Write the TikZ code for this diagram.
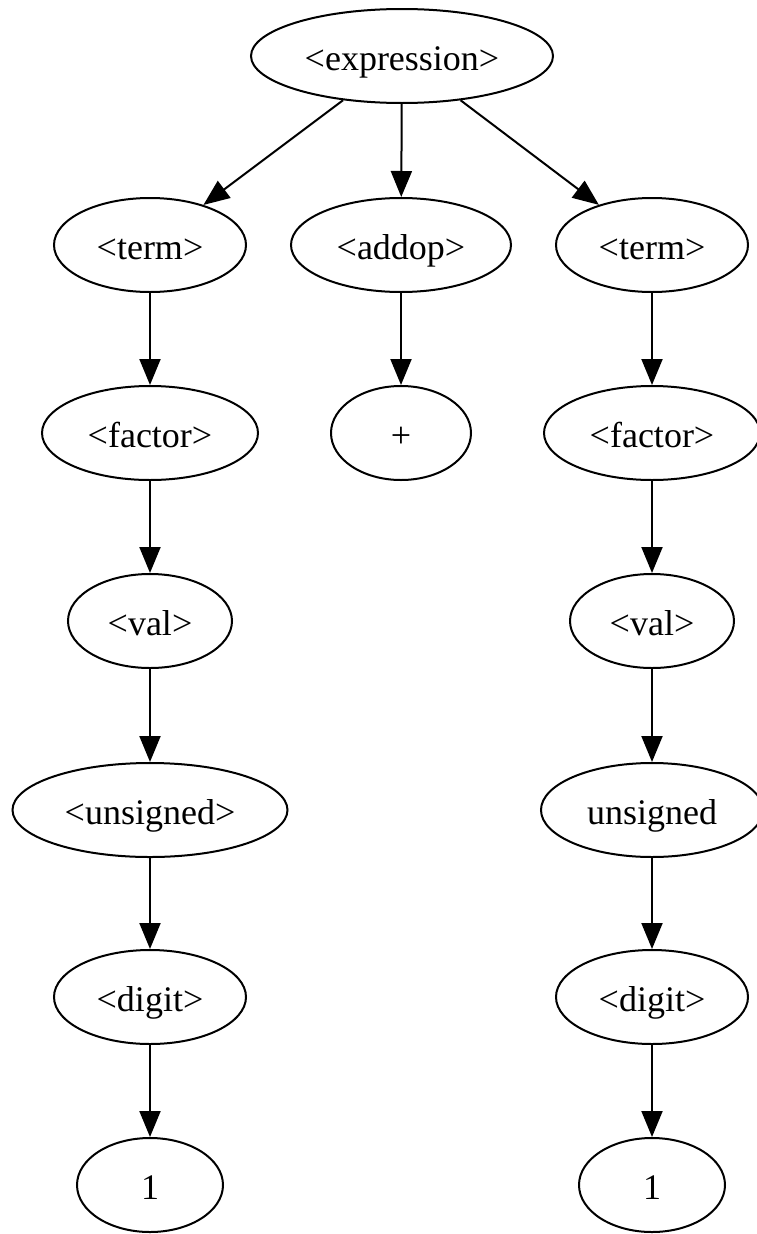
\documentclass[tikz,border=0pt]{standalone}
\usepackage{fontspec}
\setmainfont{Liberation Serif}
\usetikzlibrary{arrows.meta,shapes.geometric}
\begin{document}
\begin{tikzpicture}[x=1pt,y=-1pt,
  gv/.style={draw, ellipse, line width=2pt, inner sep=0pt, minimum height=94pt,
    font=\fontsize{36}{40}\selectfont, text height=32pt, text depth=4pt},
  edge/.style={line width=2pt, -{Triangle[length=26pt,width=21pt]}}]
\useasboundingbox (0,0) rectangle (756,1234);
\node[gv, minimum width=302pt] (expr) at (402,56) {<expression>};
\node[gv, minimum width=192pt] (termL) at (150,245) {<term>};
\node[gv, minimum width=220pt] (addop) at (401,245) {<addop>};
\node[gv, minimum width=192pt] (termR) at (652,245) {<term>};
\node[gv, minimum width=216pt] (factL) at (150,433) {<factor>};
\node[gv, minimum width=140pt] (plus) at (401,433) {+};
\node[gv, minimum width=216pt] (factR) at (652,433) {<factor>};
\node[gv, minimum width=164pt] (valL) at (150,621) {<val>};
\node[gv, minimum width=164pt] (valR) at (652,621) {<val>};
\node[gv, minimum width=275pt] (unsL) at (150,810) {<unsigned>};
\node[gv, minimum width=222pt] (unsR) at (652,810) {unsigned};
\node[gv, minimum width=192pt] (digL) at (150,997) {<digit>};
\node[gv, minimum width=192pt] (digR) at (652,997) {<digit>};
\node[gv, minimum width=146pt] (oneL) at (150,1185) {1};
\node[gv, minimum width=146pt] (oneR) at (652,1185) {1};
\draw[edge] (expr) -- (termL);
\draw[edge] (expr) -- (addop);
\draw[edge] (expr) -- (termR);
\draw[edge] (termL) -- (factL);
\draw[edge] (addop) -- (plus);
\draw[edge] (termR) -- (factR);
\draw[edge] (factL) -- (valL);
\draw[edge] (factR) -- (valR);
\draw[edge] (valL) -- (unsL);
\draw[edge] (valR) -- (unsR);
\draw[edge] (unsL) -- (digL);
\draw[edge] (unsR) -- (digR);
\draw[edge] (digL) -- (oneL);
\draw[edge] (digR) -- (oneR);
\end{tikzpicture}
\end{document}
